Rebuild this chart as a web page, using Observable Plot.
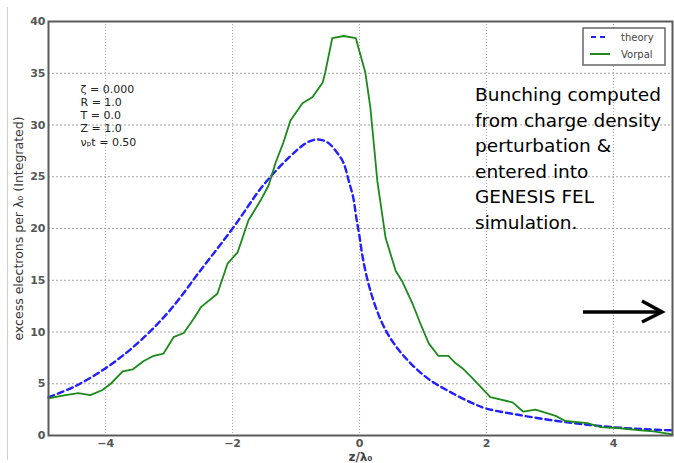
<!DOCTYPE html>
<html>
<head>
<meta charset="utf-8">
<script src="https://cdn.jsdelivr.net/npm/d3@7"></script>
<script src="https://cdn.jsdelivr.net/npm/@observablehq/plot@0.6"></script>
<style>
  html, body { margin: 0; padding: 0; background: white; }
  #wrap { position: relative; width: 674px; height: 463px; overflow: hidden; }
  #edge { position: absolute; left: 7px; top: 7px; width: 1px; height: 453px; background: #cfcfcf; }
</style>
</head>
<body>
<div id="wrap"><div id="edge"></div></div>
<script>
// ---- data ----
const theoryX = [-4.9, -4.5, -4.0, -3.5, -3.0, -2.5, -2.0, -1.5, -1.0, -0.8, -0.65, -0.5, -0.35, -0.25, -0.17, -0.1, -0.05, 0.0, 0.05, 0.17, 0.36, 0.54, 0.8, 1.1, 1.4, 1.75, 2.0, 2.5, 3.0, 3.5, 4.0, 4.5, 4.93];
const theoryY = [3.7, 4.7, 6.5, 8.9, 12.0, 16.0, 20.0, 24.3, 27.5, 28.4, 28.6, 28.3, 27.3, 26.3, 24.6, 23.0, 21.0, 19.2, 17.2, 14.0, 10.8, 8.9, 7.0, 5.4, 4.3, 3.2, 2.6, 2.0, 1.5, 1.1, 0.8, 0.6, 0.5];

const vorpalX = [-4.9, -4.63, -4.43, -4.24, -4.05, -3.92, -3.73, -3.57, -3.40, -3.24, -3.09, -2.93, -2.77, -2.61, -2.50, -2.24, -2.08, -1.92, -1.75, -1.56, -1.43, -1.32, -1.20, -1.09, -0.90, -0.74, -0.58, -0.54, -0.43, -0.25, -0.06, 0.09, 0.17, 0.22, 0.28, 0.41, 0.57, 0.68, 0.83, 0.96, 1.09, 1.24, 1.40, 1.51, 1.62, 1.77, 2.06, 2.41, 2.58, 2.77, 3.09, 3.24, 3.59, 3.80, 4.11, 4.43, 4.63, 4.93];
const vorpalY = [3.6, 3.9, 4.1, 3.9, 4.4, 5.0, 6.2, 6.4, 7.2, 7.7, 7.9, 9.5, 9.9, 11.3, 12.4, 13.7, 16.6, 17.7, 20.8, 22.7, 24.2, 26.4, 28.3, 30.4, 32.1, 32.7, 34.1, 35.1, 38.4, 38.6, 38.4, 35.1, 31.7, 28.5, 24.6, 19.1, 15.9, 14.8, 12.8, 10.8, 8.9, 7.7, 7.7, 7.0, 6.5, 5.6, 3.7, 3.2, 2.3, 2.5, 1.9, 1.4, 1.2, 0.8, 0.7, 0.5, 0.4, 0.1];

const xTicks = [-4, -2, 0, 2, 4];
const yTicks = [0, 5, 10, 15, 20, 25, 30, 35, 40];
const seriesNames = ["theory", "Vorpal"];
const paramLines = ["ζ = 0.000", "R = 1.0", "T = 0.0", "Z = 1.0", "νₚt = 0.50"];
const noteLines = ["Bunching computed", "from charge density", "perturbation &", "entered into", "GENESIS FEL", "simulation."];
const xLabel = "z/λ₀";
const yLabel = "excess electrons per λ₀ (Integrated)";

const theory = theoryX.map((x, i) => ({x, y: theoryY[i]}));
const vorpal = vorpalX.map((x, i) => ({x, y: vorpalY[i]}));

const chart = Plot.plot({
  width: 674,
  height: 463,
  marginLeft: 48,
  marginRight: 2,
  marginTop: 21,
  marginBottom: 28,
  style: {fontFamily: "DejaVu Sans", fontSize: "10px", color: "#444", background: "white", overflow: "visible"},
  x: {domain: [-4.9, 4.93]},
  y: {domain: [0, 40]},
  marks: [
    Plot.gridX(xTicks, {stroke: "#9a9a9a", strokeOpacity: 0.9, strokeDasharray: "1,2"}),
    Plot.gridY(yTicks, {stroke: "#9a9a9a", strokeOpacity: 0.9, strokeDasharray: "2,2"}),
    Plot.axisX(xTicks, {tickSize: 0, tickPadding: 4, fontSize: 11, fontWeight: "bold", fill: "#555", label: null}),
    Plot.axisY(yTicks, {tickSize: 0, tickPadding: 3, fontSize: 11, fontWeight: "bold", fill: "#555", label: null}),
    Plot.text([yLabel], {frameAnchor: "left", dx: -30, rotate: -90, textAnchor: "middle", lineAnchor: "middle", fontSize: 12.5, fill: "#333", text: d => d}),
    Plot.text([xLabel], {frameAnchor: "bottom", dy: 22, textAnchor: "middle", lineAnchor: "middle", fontSize: 12, fontWeight: "bold", fill: "#444", text: d => d}),
    Plot.text([paramLines.join("\n")], {frameAnchor: "top-left", dx: 32, dy: 62, textAnchor: "start", lineAnchor: "top", lineHeight: 1.2, fontSize: 11, fill: "#222", text: d => d}),
    Plot.line(theory, {x: "x", y: "y", curve: "catmull-rom", stroke: "#1f1fff", strokeWidth: 2.4, strokeDasharray: "6,4"}),
    Plot.line(vorpal, {x: "x", y: "y", stroke: "#1b8a1b", strokeWidth: 1.8}),
    Plot.frame({stroke: "#5a5a5a", strokeWidth: 2})
  ]
});

document.getElementById("wrap").appendChild(chart);

// annotations: legend, note text, arrow
const svg = d3.select(chart);
const g = svg.append("g").attr("text-anchor", "start");

// legend box
const lg = g.append("g").attr("transform", "translate(583,28)");
lg.append("rect").attr("width", 82).attr("height", 37).attr("fill", "white").attr("stroke", "#666").attr("stroke-width", 1.5);
lg.append("line").attr("x1", 8).attr("x2", 26).attr("y1", 9).attr("y2", 9).attr("stroke", "#1f1fff").attr("stroke-width", 2).attr("stroke-dasharray", "5,4");
lg.append("line").attr("x1", 7).attr("x2", 27).attr("y1", 26).attr("y2", 26).attr("stroke", "#1b8a1b").attr("stroke-width", 2);
lg.selectAll("text.leg").data(seriesNames).join("text").attr("class", "leg")
  .attr("x", 38).attr("y", (d, i) => 9 + i * 17).attr("dy", "0.35em").attr("text-anchor", "start")
  .attr("font-size", 10).attr("fill", "#444").attr("font-family", "DejaVu Sans").text(d => d);

// note text
g.append("text").attr("font-family", "DejaVu Sans").attr("font-size", 18.5).attr("fill", "black").attr("text-anchor", "start")
  .selectAll("tspan").data(noteLines).join("tspan")
  .attr("x", 475).attr("y", (d, i) => 101 + i * 25.6).text(d => d);

// arrow
const ag = g.append("g").attr("stroke", "black").attr("stroke-width", 3.5).attr("fill", "none").attr("stroke-linecap", "butt");
ag.append("line").attr("x1", 583).attr("x2", 661).attr("y1", 312).attr("y2", 312);
ag.append("polyline").attr("points", "642,301 662,312 642,322").attr("stroke-linejoin", "miter");
</script>
</body>
</html>
